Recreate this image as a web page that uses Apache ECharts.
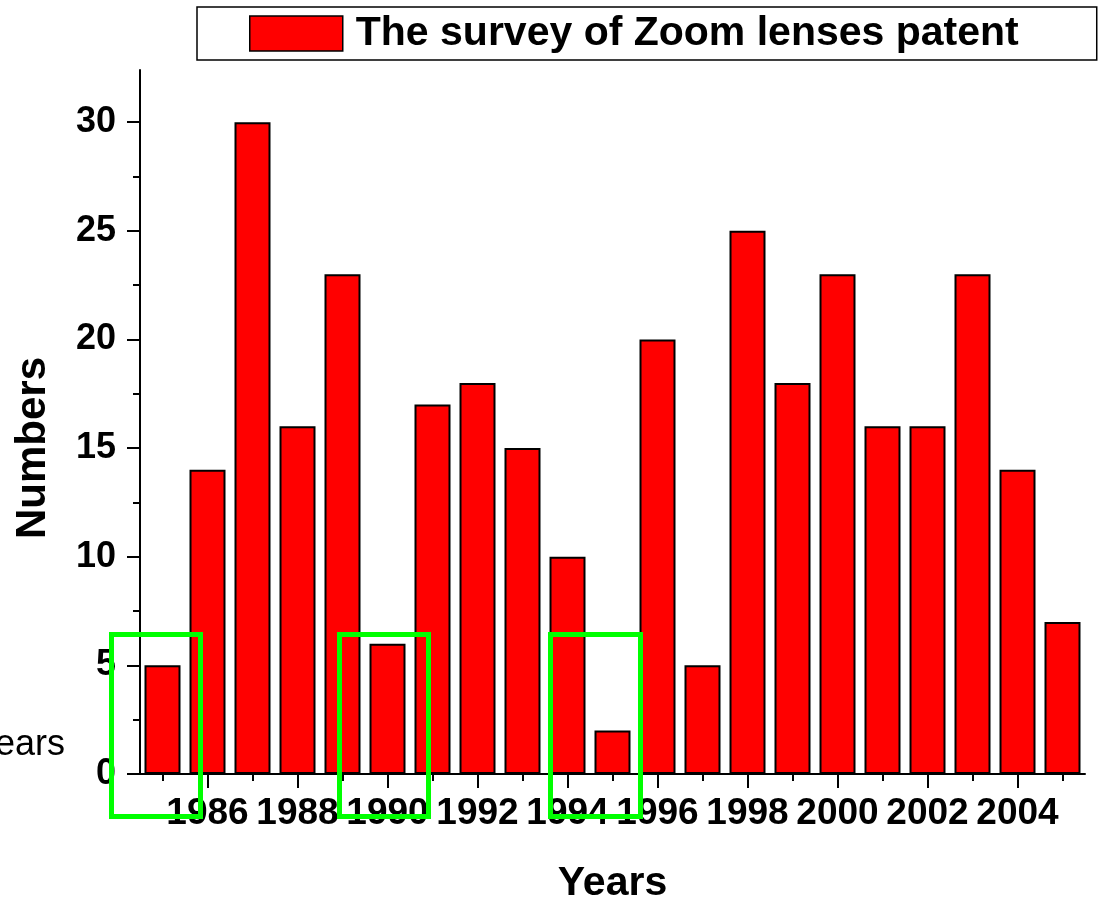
<!DOCTYPE html>
<html>
<head>
<meta charset="utf-8">
<title>The survey of Zoom lenses patent</title>
<script src="https://cdn.jsdelivr.net/npm/echarts@6/dist/echarts.min.js"></script>
<style>
  html, body { margin: 0; padding: 0; background: #fff; }
  #chart { width: 1099px; height: 898px; }
</style>
</head>
<body>
<div id="chart"></div>
<script>
// 年份（类目轴）
const years = ['1985', '1986', '1987', '1988', '1989', '1990', '1991', '1992', '1993', '1994',
  '1995', '1996', '1997', '1998', '1999', '2000', '2001', '2002', '2003', '2004', '2005']

// 每年专利数量
const patentCounts = [5, 14, 30, 16, 23, 6, 17, 18, 15, 10, 2, 20, 5, 25, 18, 23, 16, 16, 23, 14, 7]

// y 轴刻度
const majorTicks = [0, 5, 10, 15, 20, 25, 30]
const minorTicks = [2.5, 7.5, 12.5, 17.5, 22.5, 27.5]

const seriesName = 'The survey of Zoom lenses patent'
const FONT = "'Liberation Sans', Arial, sans-serif"

const chart = echarts.init(document.getElementById('chart'), null, { renderer: 'canvas' })

// 偶数年份显示长刻度和标签
const isEvenYear = (index, value) => Number(value) % 2 === 0

const option = {
  backgroundColor: '#fff',
  animation: false,
  legend: {
    left: 197,
    top: 7,
    padding: [6, 78, 6, 52],
    borderColor: '#000',
    borderWidth: 1.5,
    itemWidth: 93,
    itemHeight: 35,
    icon: 'rect',
    itemStyle: { borderColor: '#000', borderWidth: 1.5 },
    textStyle: {
      color: '#000',
      fontSize: 41,
      fontWeight: 'bold',
      fontFamily: FONT,
      padding: [0, 0, 0, 8]
    },
    data: [seriesName]
  },
  grid: {
    left: 140,
    right: 14,
    top: 70,
    bottom: 124,
    containLabel: false,
    outerBoundsMode: 'none'
  },
  xAxis: [
    {
      type: 'category',
      position: 'bottom',
      data: years,
      boundaryGap: true,
      name: 'Years',
      nameLocation: 'middle',
      nameGap: 89,
      nameTextStyle: { color: '#000', fontSize: 41, fontWeight: 'bold', fontFamily: FONT },
      axisLine: { show: true, lineStyle: { color: '#000', width: 2 } },
      axisTick: {
        show: true,
        alignWithLabel: true,
        interval: isEvenYear,
        length: 14,
        lineStyle: { color: '#000', width: 2 }
      },
      axisLabel: {
        show: true,
        interval: isEvenYear,
        margin: 21,
        color: '#000',
        fontSize: 37,
        fontWeight: 'bold',
        fontFamily: FONT
      },
      splitLine: { show: false }
    },
    {
      // 奇数年份的短刻度
      type: 'category',
      position: 'bottom',
      data: years,
      boundaryGap: true,
      axisLine: { show: false },
      axisTick: {
        show: true,
        alignWithLabel: true,
        interval: 0,
        length: 7,
        lineStyle: { color: '#000', width: 2 }
      },
      axisLabel: { show: false },
      splitLine: { show: false }
    }
  ],
  yAxis: [
    {
      type: 'value',
      position: 'left',
      min: 0,
      max: 32.4,
      interval: 5,
      name: 'Numbers',
      nameLocation: 'middle',
      nameGap: 86,
      nameTextStyle: {
        color: '#000',
        fontSize: 42,
        fontWeight: 'bold',
        fontFamily: FONT,
        padding: [0, 52, 0, 0]
      },
      axisLine: { show: true, lineStyle: { color: '#000', width: 2 } },
      axisTick: {
        show: true,
        customValues: majorTicks,
        length: 13,
        lineStyle: { color: '#000', width: 2 }
      },
      axisLabel: {
        customValues: majorTicks,
        margin: 24,
        color: '#000',
        fontSize: 36,
        fontWeight: 'bold',
        fontFamily: FONT
      },
      splitLine: { show: false }
    },
    {
      // 次刻度
      type: 'value',
      position: 'left',
      min: 0,
      max: 32.4,
      interval: 5,
      axisLine: { show: false },
      axisTick: {
        show: true,
        customValues: minorTicks,
        length: 7,
        lineStyle: { color: '#000', width: 2 }
      },
      axisLabel: { show: false },
      splitLine: { show: false }
    }
  ],
  series: [
    {
      name: seriesName,
      type: 'bar',
      xAxisIndex: 0,
      yAxisIndex: 0,
      barWidth: '80%',
      itemStyle: {
        color: '#ff0000',
        borderColor: '#000',
        borderWidth: 2
      },
      data: patentCounts
    }
  ],
  graphic: [
    // 左侧被截断的文字
    {
      type: 'text',
      x: 65,
      y: 745,
      z: 100,
      style: {
        text: 'Years',
        fill: '#000',
        font: "36px 'Liberation Sans', Arial, sans-serif",
        align: 'right',
        verticalAlign: 'middle'
      }
    },
    // 绿色标注框
    {
      type: 'rect', x: 111.5, y: 634.5, z: 100,
      shape: { width: 89, height: 182 },
      style: { fill: 'none', stroke: '#00ff00', lineWidth: 5 }
    },
    {
      type: 'rect', x: 339.5, y: 634.5, z: 100,
      shape: { width: 89, height: 182 },
      style: { fill: 'none', stroke: '#00ff00', lineWidth: 5 }
    },
    {
      type: 'rect', x: 550.5, y: 634.5, z: 100,
      shape: { width: 90, height: 182 },
      style: { fill: 'none', stroke: '#00ff00', lineWidth: 5 }
    }
  ]
}

chart.setOption(option)

window.addEventListener('resize', () => chart.resize())
</script>
</body>
</html>
